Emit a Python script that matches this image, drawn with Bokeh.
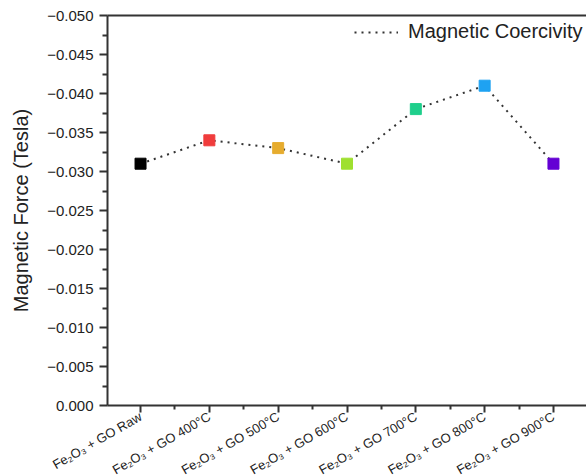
import math
from bokeh.plotting import figure
from bokeh.models import Range1d, FixedTicker, Legend, LegendItem, ColumnDataSource, LinearAxis
from bokeh.embed import file_html
from bokeh.resources import INLINE

# ---- data ----
categories = ["Fe\u2082O\u2083 + GO Raw", "Fe\u2082O\u2083 + GO 400\u00b0C", "Fe\u2082O\u2083 + GO 500\u00b0C",
              "Fe\u2082O\u2083 + GO 600\u00b0C", "Fe\u2082O\u2083 + GO 700\u00b0C", "Fe\u2082O\u2083 + GO 800\u00b0C",
              "Fe\u2082O\u2083 + GO 900\u00b0C"]
positions = [1, 2, 3, 4, 5, 6, 7]
coercivity = [-0.031, -0.034, -0.033, -0.031, -0.038, -0.041, -0.031]
point_colors = ["#000000", "#f03c3c", "#e6ac2e", "#9fe030", "#1fcf8c", "#1ea2f2", "#6400d4"]
y_tick_values = [0.0, -0.005, -0.010, -0.015, -0.020, -0.025, -0.030, -0.035, -0.040, -0.045, -0.050]
y_tick_labels = ["0.000", "\u22120.005", "\u22120.010", "\u22120.015", "\u22120.020", "\u22120.025",
                 "\u22120.030", "\u22120.035", "\u22120.040", "\u22120.045", "\u22120.050"]
y_minor_ticks = [-0.0025, -0.0075, -0.0125, -0.0175, -0.0225, -0.0275, -0.0325, -0.0375, -0.0425, -0.0475]
x_minor_ticks = [1.5, 2.5, 3.5, 4.5, 5.5, 6.5]

FONT = "Liberation Sans"
AX = "#333333"

Y_TOP, Y_BOTTOM = -0.050, 0.0
X_LEFT, X_RIGHT = 0.52, 7.48
# the frame fills the canvas; axes are pinned inside it, leaving room for their labels
y_pad_bottom = (Y_BOTTOM - Y_TOP) * 70 / 390   # 70 px under the x axis
y_pad_top = (Y_BOTTOM - Y_TOP) * 15 / 390      # 15 px above the top line
x_pad = (X_RIGHT - X_LEFT) * 107 / 479         # 107 px left of the y axis

src = ColumnDataSource(dict(x=positions, y=coercivity, c=point_colors))

p = figure(width=586, height=475, output_backend="svg", toolbar_location=None,
           x_range=Range1d(X_LEFT - x_pad, X_RIGHT),
           y_range=Range1d(Y_BOTTOM + y_pad_bottom, Y_TOP - y_pad_top),
           min_border_left=0, min_border_right=0, min_border_top=0, min_border_bottom=0)
p.outline_line_color = None
p.grid.grid_line_color = None
p.background_fill_color = "white"
p.border_fill_color = "white"

# grab the default axes before adding any other
xa = p.below[0]
ya = p.left[0]

line = p.line("x", "y", source=src, line_color="#333333", line_width=2, line_dash="2 5")
p.scatter("x", "y", source=src, marker="square", size=11, fill_color="c", line_color="c")

def style_axis(ax):
    ax.axis_line_width = 2
    ax.axis_line_color = AX
    ax.major_tick_line_width = 2
    ax.major_tick_line_color = AX
    ax.minor_tick_line_width = 2
    ax.minor_tick_line_color = AX
    ax.major_tick_in = 0
    ax.minor_tick_in = 0

# y axis
ya.fixed_location = X_LEFT
ya.bounds = (Y_TOP, Y_BOTTOM)
ya.ticker = FixedTicker(ticks=y_tick_values, minor_ticks=y_minor_ticks)
ya.major_label_overrides = {v: l for v, l in zip(y_tick_values, y_tick_labels)}
ya.axis_label = "Magnetic Force (Tesla)"
ya.axis_label_text_font = FONT
ya.axis_label_text_font_style = "normal"
ya.axis_label_text_font_size = "20px"
ya.axis_label_text_color = "#222222"
ya.axis_label_standoff = 12
ya.major_label_text_font = FONT
ya.major_label_text_font_size = "15px"
ya.major_label_text_color = "#222222"
ya.major_label_standoff = 6
ya.major_tick_out = 8
ya.minor_tick_out = 5
style_axis(ya)

# x axis
xa.fixed_location = Y_BOTTOM
xa.bounds = (X_LEFT, X_RIGHT)
xa.ticker = FixedTicker(ticks=positions, minor_ticks=x_minor_ticks)
xa.major_label_overrides = {v: l for v, l in zip(positions, categories)}
xa.major_label_orientation = math.pi / 6
xa.major_label_text_font = FONT
xa.major_label_text_font_size = "13px"
xa.major_label_text_color = "#222222"
xa.major_label_standoff = 3
xa.major_tick_out = 7
xa.minor_tick_out = 4
style_axis(xa)

# top border line: a bare axis (no ticks, no labels) pinned at the top of the data area
top = LinearAxis(fixed_location=Y_TOP, bounds=(X_LEFT, X_RIGHT),
                 ticker=FixedTicker(ticks=[], minor_ticks=[]))
style_axis(top)
p.add_layout(top, "above")

legend = Legend(items=[LegendItem(label="Magnetic Coercivity", renderers=[line])],
                location=(354, 432), border_line_color=None, background_fill_alpha=0,
                label_text_font=FONT, label_text_font_size="20px", label_text_color="#222222",
                glyph_width=44, label_standoff=10, padding=3, margin=0)
p.add_layout(legend)

open("out.html", "w").write(file_html(p, INLINE))
